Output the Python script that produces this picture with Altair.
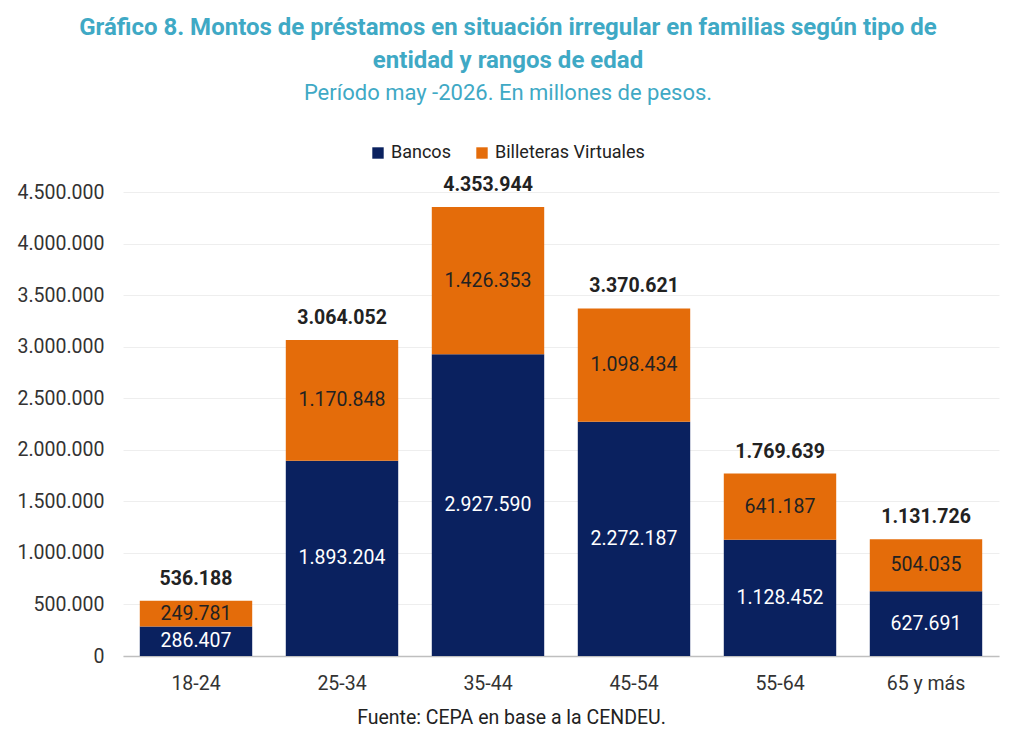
import altair as alt
import pandas as pd

categorias = ["18-24", "25-34", "35-44", "45-54", "55-64", "65 y más"]
bancos = [286407, 1893204, 2927590, 2272187, 1128452, 627691]
billeteras = [249781, 1170848, 1426353, 1098434, 641187, 504035]
totales = [536188, 3064052, 4353944, 3370621, 1769639, 1131726]
y_ticks = [0, 500000, 1000000, 1500000, 2000000, 2500000, 3000000, 3500000, 4000000, 4500000]

df = pd.DataFrame({
    "edad": categorias,
    "Bancos": bancos,
    "Billeteras Virtuales": billeteras,
    "total": totales,
})

NAVY = "#0a215f"
ORANGE = "#e46c0a"
TEAL = "#3fa9c5"
FONT = "Roboto"

x_enc = alt.X(
    "edad:N",
    sort=categorias,
    scale=alt.Scale(paddingInner=0.23, paddingOuter=0.115),
    axis=alt.Axis(
        title="Fuente: CEPA en base a la CENDEU.",
        titleFont=FONT, titleFontSize=19.5, titleFontWeight="normal", titleColor="#222222",
        titlePadding=16, titleX=388, titleAlign="center",
        labelAngle=0, labelFont=FONT, labelFontSize=19.5, labelColor="#333333", labelPadding=18,
        ticks=False, domainColor="#bfbfbf", domainWidth=1.5,
    ),
)

base = alt.Chart(df)

bars = base.transform_fold(
    ["Bancos", "Billeteras Virtuales"], as_=["tipo", "monto"]
).transform_calculate(
    orden="datum.tipo == 'Bancos' ? 0 : 1"
).mark_bar().encode(
    x=x_enc,
    y=alt.Y(
        "monto:Q",
        stack="zero",
        scale=alt.Scale(domain=[0, 4500000], nice=False),
        axis=alt.Axis(
            title=None, values=y_ticks, format=",d",
            labelFont=FONT, labelFontSize=19.5, labelColor="#333333", labelPadding=19,
            ticks=False, domain=False, grid=True, gridColor="#eeeeee",
        ),
    ),
    color=alt.Color(
        "tipo:N",
        scale=alt.Scale(domain=["Bancos", "Billeteras Virtuales"], range=[NAVY, ORANGE]),
        legend=alt.Legend(
            title=None, orient="none", direction="horizontal",
            legendX=246, legendY=-48,
            symbolType="square", symbolSize=130, symbolStrokeWidth=0,
            labelFont=FONT, labelFontSize=18, labelColor="#222222",
            columnPadding=22, labelOffset=4,
        ),
    ),
    order=alt.Order("orden:Q"),
)

lbl_bancos = base.transform_calculate(
    mid="datum.Bancos / 2"
).mark_text(font=FONT, fontSize=19.5, color="white").encode(
    x=alt.X("edad:N", sort=categorias),
    y=alt.Y("mid:Q"),
    text=alt.Text("Bancos:Q", format=",d"),
)

lbl_bill = base.transform_calculate(
    mid="datum.Bancos + datum['Billeteras Virtuales'] / 2"
).mark_text(font=FONT, fontSize=19.5, color="#222222").encode(
    x=alt.X("edad:N", sort=categorias),
    y=alt.Y("mid:Q"),
    text=alt.Text("Billeteras Virtuales:Q", format=",d"),
)

lbl_total = base.mark_text(
    font=FONT, fontSize=19.5, fontWeight="bold", color="#222222", baseline="bottom", dy=-12
).encode(
    x=alt.X("edad:N", sort=categorias),
    y=alt.Y("total:Q"),
    text=alt.Text("total:Q", format=",d"),
)

chart = alt.layer(bars, lbl_bancos, lbl_bill, lbl_total).properties(
    width=876,
    height=464,
    title=alt.TitleParams(
        text=["Gráfico 8. Montos de préstamos en situación irregular en familias según tipo de",
              "entidad y rangos de edad"],
        subtitle="Período may -2026. En millones de pesos.",
        font=FONT, fontSize=24, fontWeight="bold", color=TEAL, lineHeight=33,
        subtitleFont=FONT, subtitleFontSize=22, subtitleColor=TEAL, subtitlePadding=10,
        anchor="middle", frame="bounds", offset=40,
    ),
).configure(
    locale=alt.Locale(number=alt.NumberLocale(decimal=",", thousands=".", grouping=[3], currency=["$", ""]))
).configure_view(
    stroke=None
).properties(
    padding={"left": 9, "top": 8, "right": 5, "bottom": 5}
)

chart.save("out.html", embed_options={"renderer": "svg", "actions": False})
